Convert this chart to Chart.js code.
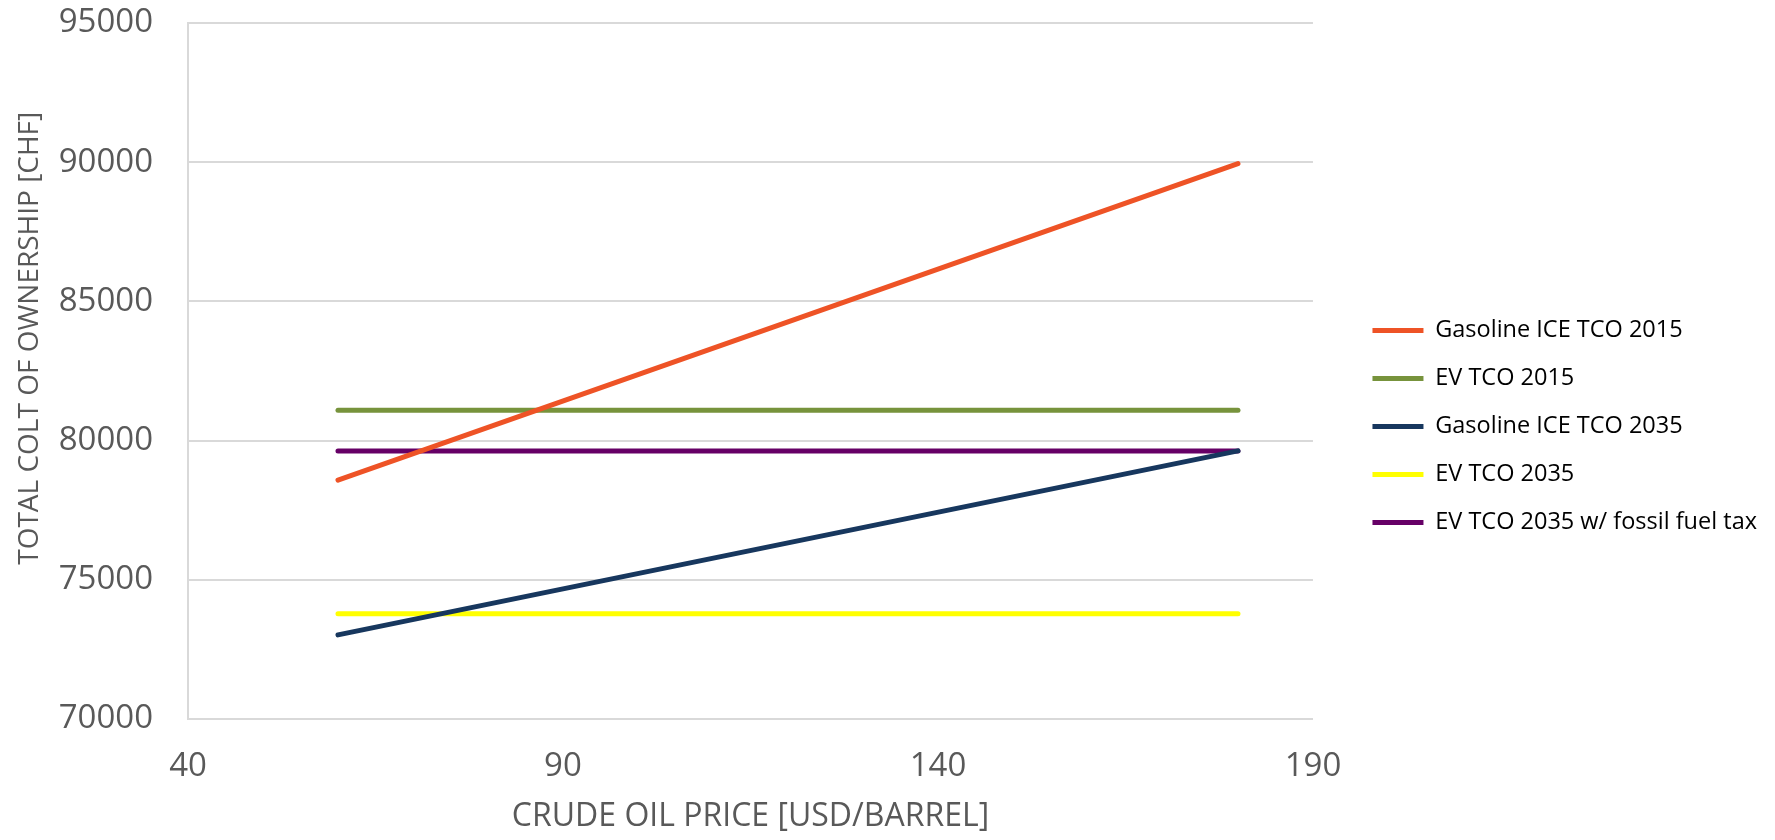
<!DOCTYPE html>
<html>
<head>
<meta charset="utf-8">
<script src="https://cdn.jsdelivr.net/npm/chart.js@4/dist/chart.umd.min.js"></script>
<style>
  html, body { margin: 0; padding: 0; background: #fff; }
  #wrap { width: 1775px; height: 840px; position: relative; }
</style>
</head>
<body>
<div id="wrap"><canvas id="chart"></canvas></div>
<script>
// crude oil price [USD/barrel]
var oilPrice = [60, 180];

// total cost of ownership [CHF]
var gasolineIce2015 = [78580, 89950];
var ev2015 = [81090, 81090];
var gasolineIce2035 = [73020, 79630];
var ev2035 = [73780, 73780];
var ev2035FuelTax = [79630, 79630];

var seriesNames = [
  'Gasoline ICE TCO 2015',
  'EV TCO 2015',
  'Gasoline ICE TCO 2035',
  'EV TCO 2035',
  'EV TCO 2035 w/ fossil fuel tax'
];
var seriesColors = ['#EE5326', '#77933C', '#17375E', '#FFFF00', '#660066'];
var seriesValues = [gasolineIce2015, ev2015, gasolineIce2035, ev2035, ev2035FuelTax];

var yTicks = [70000, 75000, 80000, 85000, 90000, 95000];
var xTicks = [40, 90, 140, 190];

function points(vals) {
  return vals.map(function (v, i) { return { x: oilPrice[i], y: v }; });
}

var datasets = seriesNames.map(function (name, i) {
  return {
    label: name,
    data: points(seriesValues[i]),
    borderColor: seriesColors[i],
    backgroundColor: seriesColors[i],
    borderWidth: 5,
    borderCapStyle: 'round',
    pointRadius: 0,
    pointHoverRadius: 0,
    tension: 0
  };
});

var grey = '#595959';
var gridGrey = '#D9D9D9';

new Chart(document.getElementById('chart'), {
  type: 'line',
  data: { datasets: datasets },
  options: {
    responsive: true,
    maintainAspectRatio: false,
    animation: false,
    layout: { padding: { left: 13, right: 8, top: 23, bottom: 10 } },
    plugins: {
      tooltip: { enabled: false },
      legend: {
        position: 'right',
        align: 'center',
        labels: {
          usePointStyle: true,
          pointStyle: 'line',
          pointStyleWidth: 51,
          padding: 24.5,
          color: '#000',
          font: { family: 'Open Sans', size: 23.5 }
        }
      }
    },
    scales: {
      x: {
        type: 'linear',
        min: 40,
        max: 190,
        afterBuildTicks: function (axis) {
          axis.ticks = xTicks.map(function (v) { return { value: v }; });
        },
        afterFit: function (axis) {
          axis.height = 111;
          axis.paddingLeft = 0;
          axis.paddingRight = 0;
        },
        grid: { display: false, drawTicks: false },
        border: { display: true, color: gridGrey, width: 2 },
        ticks: {
          color: grey,
          padding: 28,
          maxRotation: 0,
          font: { family: 'Open Sans', size: 33 }
        },
        title: {
          display: true,
          text: 'CRUDE OIL PRICE [USD/BARREL]',
          color: grey,
          padding: { top: 0, bottom: -6 },
          font: { family: 'Open Sans', size: 32 }
        }
      },
      y: {
        min: 70000,
        max: 95000,
        afterBuildTicks: function (axis) {
          axis.ticks = yTicks.map(function (v) { return { value: v }; });
        },
        afterFit: function (axis) {
          axis.width = 175;
          axis.paddingTop = 0;
          axis.paddingBottom = 0;
        },
        grid: { color: gridGrey, lineWidth: 2, drawTicks: false },
        border: { display: true, color: gridGrey, width: 2 },
        ticks: {
          color: grey,
          padding: 35,
          font: { family: 'Open Sans', size: 33 },
          callback: function (v) { return String(v); }
        },
        title: {
          display: true,
          // leading spaces push the title up, as in the original
          text: '         TOTAL COLT OF OWNERSHIP [CHF]',
          color: grey,
          padding: 0,
          font: { family: 'Open Sans', size: 28 }
        }
      },
      // hidden axis only used as the gap between plot and legend
      gap: {
        type: 'linear',
        position: 'right',
        display: false,
        afterFit: function (axis) {
          axis.width = 35;
          axis.paddingTop = 0;
          axis.paddingBottom = 0;
        }
      }
    }
  }
});
</script>
</body>
</html>
